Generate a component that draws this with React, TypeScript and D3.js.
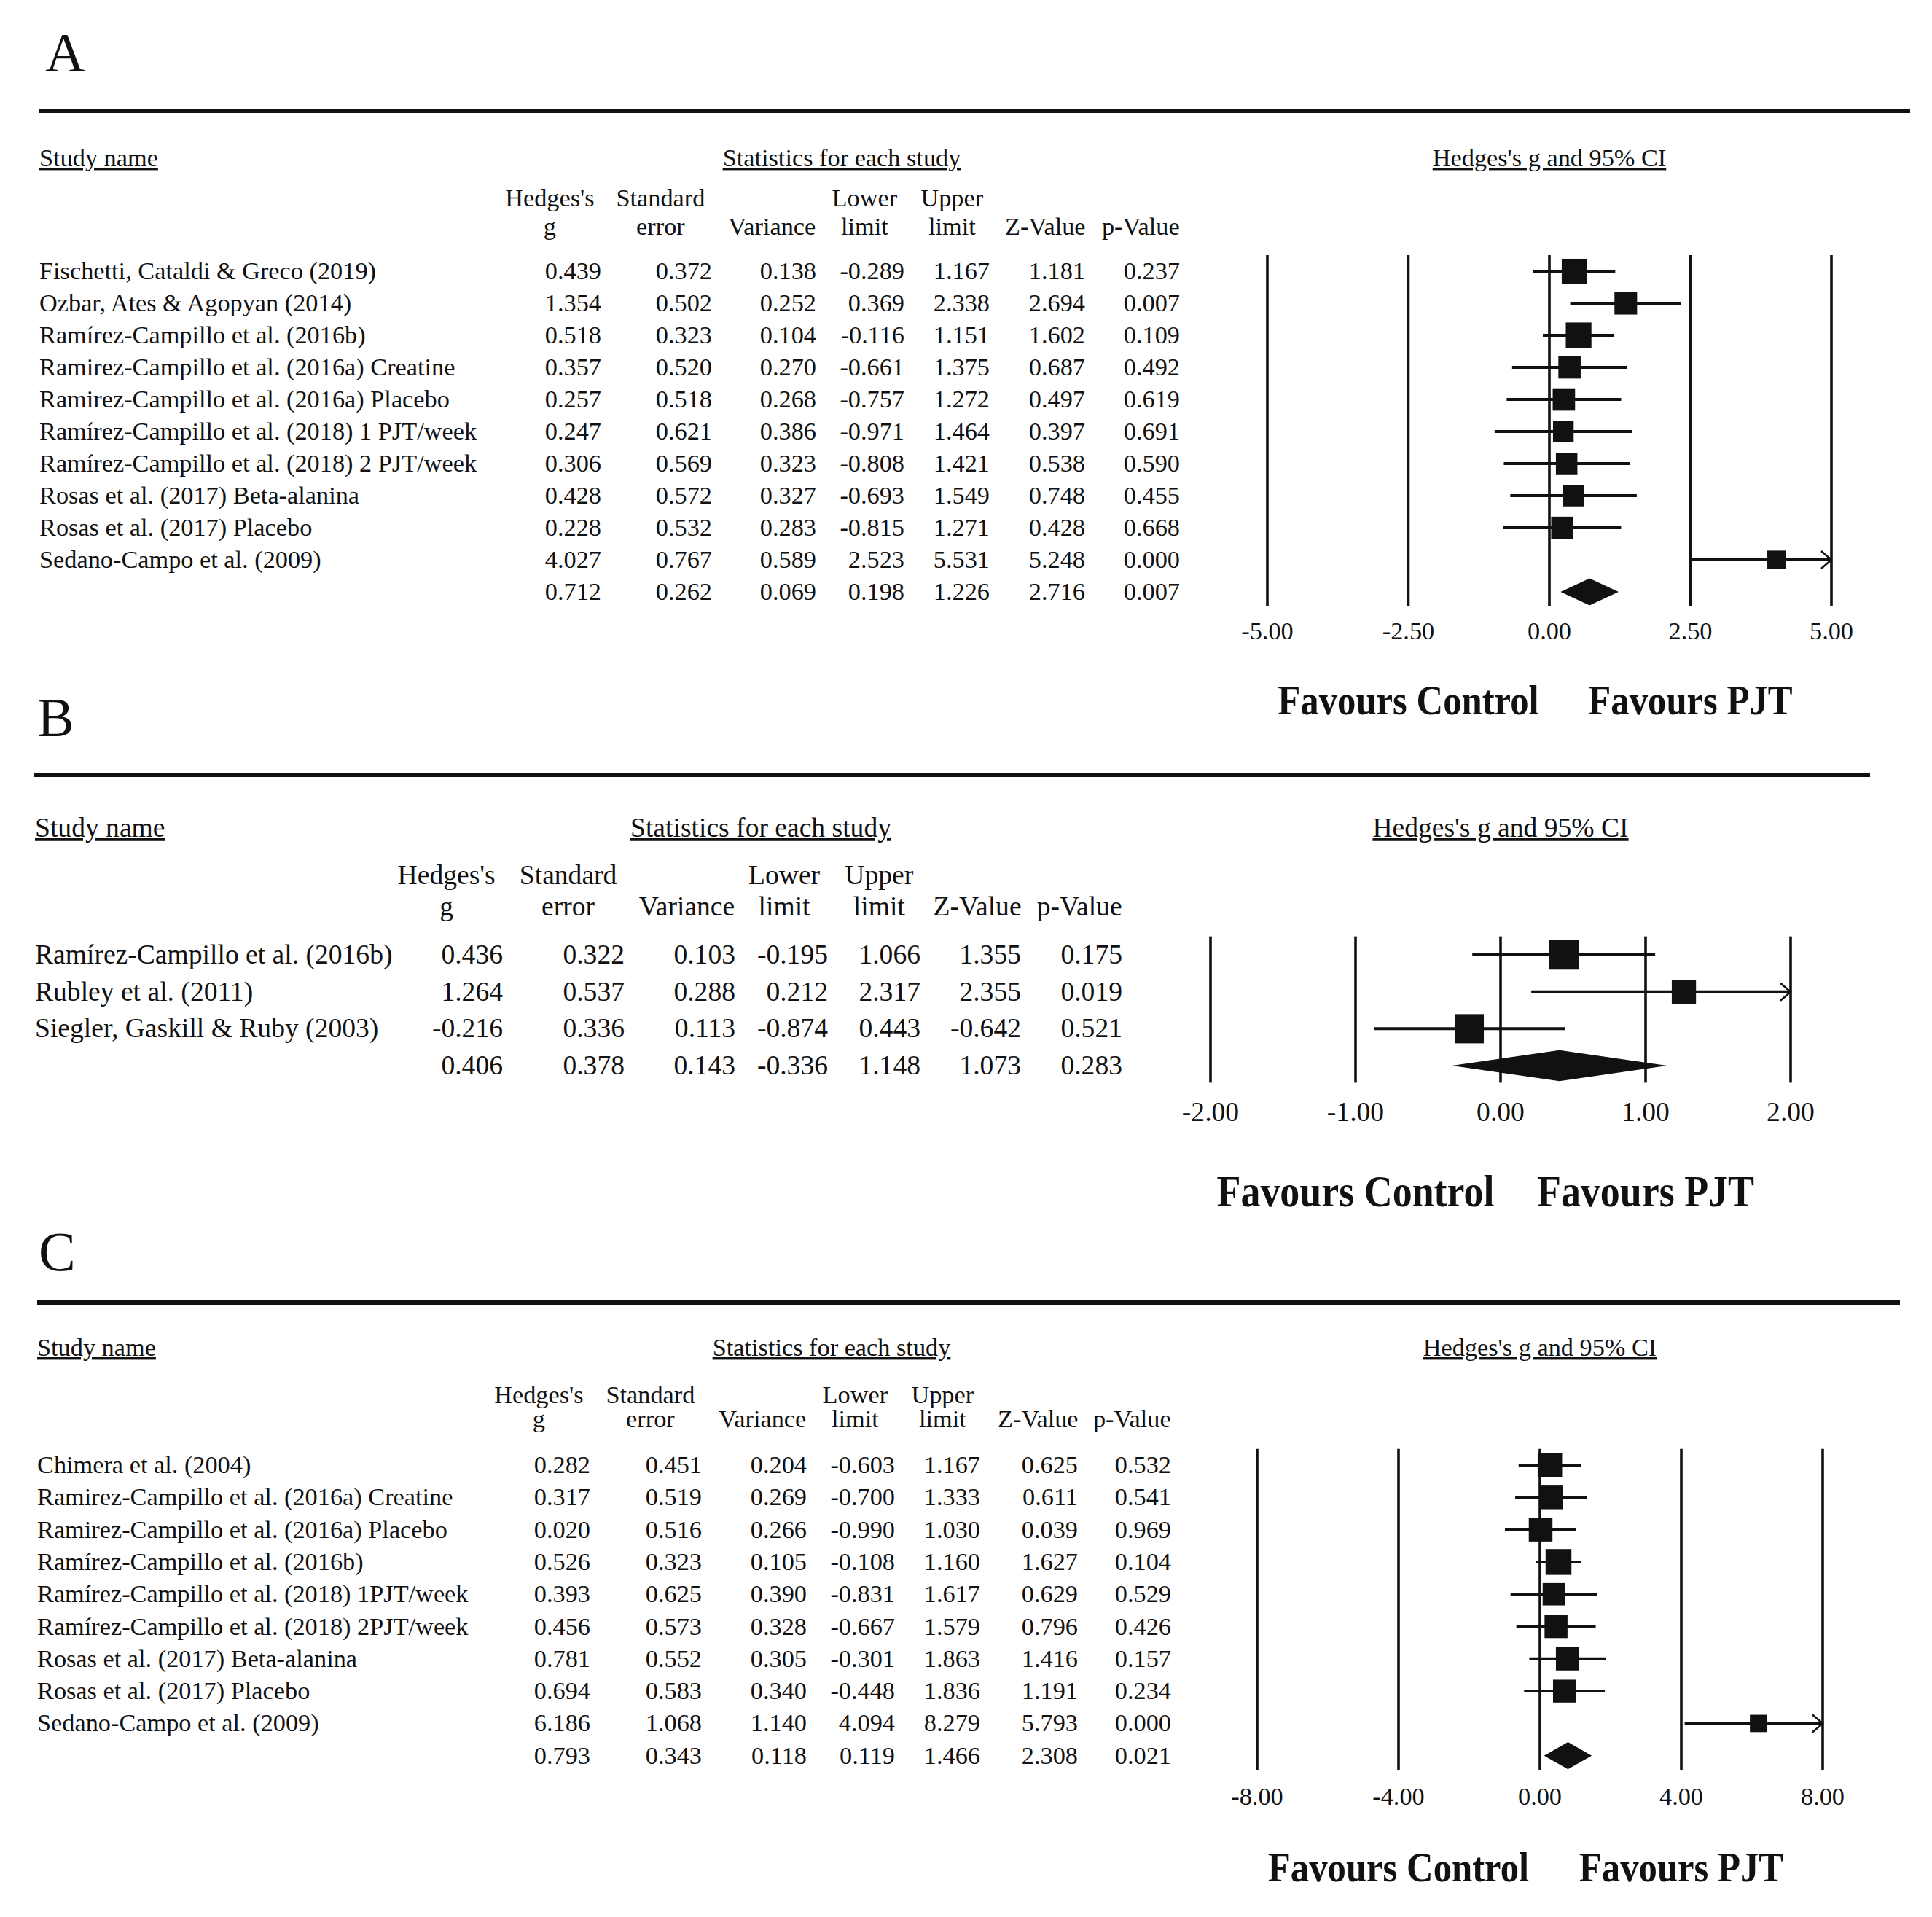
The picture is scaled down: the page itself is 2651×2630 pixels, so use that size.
import React from "react";
import * as d3 from "d3";

// ---------------- Panel A data ----------------
const aStudies = [
  "Fischetti, Cataldi & Greco (2019)",
  "Ozbar, Ates & Agopyan (2014)",
  "Ramírez-Campillo et al. (2016b)",
  "Ramirez-Campillo et al. (2016a) Creatine",
  "Ramirez-Campillo et al. (2016a) Placebo",
  "Ramírez-Campillo et al. (2018) 1 PJT/week",
  "Ramírez-Campillo et al. (2018) 2 PJT/week",
  "Rosas et al. (2017) Beta-alanina",
  "Rosas et al. (2017) Placebo",
  "Sedano-Campo et al. (2009)",
];
const aHedgesG = [0.439, 1.354, 0.518, 0.357, 0.257, 0.247, 0.306, 0.428, 0.228, 4.027];
const aStdErr = [0.372, 0.502, 0.323, 0.52, 0.518, 0.621, 0.569, 0.572, 0.532, 0.767];
const aVariance = [0.138, 0.252, 0.104, 0.27, 0.268, 0.386, 0.323, 0.327, 0.283, 0.589];
const aLower = [-0.289, 0.369, -0.116, -0.661, -0.757, -0.971, -0.808, -0.693, -0.815, 2.523];
const aUpper = [1.167, 2.338, 1.151, 1.375, 1.272, 1.464, 1.421, 1.549, 1.271, 5.531];
const aZValue = [1.181, 2.694, 1.602, 0.687, 0.497, 0.397, 0.538, 0.748, 0.428, 5.248];
const aPValue = [0.237, 0.007, 0.109, 0.492, 0.619, 0.691, 0.59, 0.455, 0.668, 0.0];
const aSummary = [0.712, 0.262, 0.069, 0.198, 1.226, 2.716, 0.007];
const aTicks = [-5, -2.5, 0, 2.5, 5];

// ---------------- Panel B data ----------------
const bStudies = [
  "Ramírez-Campillo et al. (2016b)",
  "Rubley et al. (2011)",
  "Siegler, Gaskill & Ruby (2003)",
];
const bHedgesG = [0.436, 1.264, -0.216];
const bStdErr = [0.322, 0.537, 0.336];
const bVariance = [0.103, 0.288, 0.113];
const bLower = [-0.195, 0.212, -0.874];
const bUpper = [1.066, 2.317, 0.443];
const bZValue = [1.355, 2.355, -0.642];
const bPValue = [0.175, 0.019, 0.521];
const bSummary = [0.406, 0.378, 0.143, -0.336, 1.148, 1.073, 0.283];
const bTicks = [-2, -1, 0, 1, 2];

// ---------------- Panel C data ----------------
const cStudies = [
  "Chimera et al. (2004)",
  "Ramirez-Campillo et al. (2016a) Creatine",
  "Ramirez-Campillo et al. (2016a) Placebo",
  "Ramírez-Campillo et al. (2016b)",
  "Ramírez-Campillo et al. (2018) 1PJT/week",
  "Ramírez-Campillo et al. (2018) 2PJT/week",
  "Rosas et al. (2017) Beta-alanina",
  "Rosas et al. (2017) Placebo",
  "Sedano-Campo et al. (2009)",
];
const cHedgesG = [0.282, 0.317, 0.02, 0.526, 0.393, 0.456, 0.781, 0.694, 6.186];
const cStdErr = [0.451, 0.519, 0.516, 0.323, 0.625, 0.573, 0.552, 0.583, 1.068];
const cVariance = [0.204, 0.269, 0.266, 0.105, 0.39, 0.328, 0.305, 0.34, 1.14];
const cLower = [-0.603, -0.7, -0.99, -0.108, -0.831, -0.667, -0.301, -0.448, 4.094];
const cUpper = [1.167, 1.333, 1.03, 1.16, 1.617, 1.579, 1.863, 1.836, 8.279];
const cZValue = [0.625, 0.611, 0.039, 1.627, 0.629, 0.796, 1.416, 1.191, 5.793];
const cPValue = [0.532, 0.541, 0.969, 0.104, 0.529, 0.426, 0.157, 0.234, 0.0];
const cSummary = [0.793, 0.343, 0.118, 0.119, 1.466, 2.308, 0.021];
const cTicks = [-8, -4, 0, 4, 8];

// ---------------- shared labels ----------------
const headerLine1 = ["Hedges's", "Standard", "", "Lower", "Upper", "", ""];
const headerLine2 = ["g", "error", "Variance", "limit", "limit", "Z-Value", "p-Value"];
const titleStudy = "Study name";
const titleStats = "Statistics for each study";
const titlePlot = "Hedges's g and 95% CI";
const favoursLeft = "Favours Control";
const favoursRight = "Favours PJT";

const FONT = "'Liberation Serif', 'Times New Roman', 'DejaVu Serif', serif";
const INK = "#111";

function dlTau2(g: number[], v: number[]) {
  const w = v.map((d) => 1 / d);
  const sw = d3.sum(w);
  const mean = d3.sum(g.map((d, i) => d * w[i])) / sw;
  const q = d3.sum(g.map((d, i) => w[i] * (d - mean) ** 2));
  const c = sw - d3.sum(w.map((d) => d * d)) / sw;
  return Math.max(0, (q - (g.length - 1)) / c);
}

type PanelCfg = {
  label: string;
  labelX: number;
  labelY: number;
  ruleX1: number;
  ruleX2: number;
  ruleY: number;
  titleY: number;
  hdr1Y: number;
  hdr2Y: number;
  firstBaseline: number;
  rowH: number;
  fontSize: number;
  nameX: number;
  colRight: number[];
  statsCenter: number;
  domain: [number, number];
  range: [number, number];
  ticks: number[];
  tickGap: number;
  favoursY: number;
  favoursSize: number;
  favoursScale: number;
  names: string[];
  g: number[];
  se: number[];
  v: number[];
  lo: number[];
  hi: number[];
  z: number[];
  p: number[];
  summary: number[];
};

const headerOffsets = [-71, -71, -61, -55, -52, -55, -54];

function Panel({ c }: { c: PanelCfg }) {
  const x = d3.scaleLinear().domain(c.domain).range(c.range);
  const k = c.fontSize / 34.5;
  const nStudies = c.names.length;
  const base = (i: number) => c.firstBaseline + i * c.rowH;
  const center = (i: number) => base(i) - 0.32 * c.fontSize;
  const tau2 = dlTau2(c.g, c.v);
  const w = c.v.map((d) => 1 / (d + tau2));
  const wMax = d3.max(w) as number;
  const lineTop = center(0) - c.rowH / 2;
  const lineBottom = center(nStudies) + c.rowH / 2 - 2;
  const tickY = lineBottom + c.tickGap;
  const fmt = (d: number) => d.toFixed(3);
  const [dMin, dMax] = c.domain;

  const tableRows = c.names.map((name, i) => ({
    name,
    vals: [c.g[i], c.se[i], c.v[i], c.lo[i], c.hi[i], c.z[i], c.p[i]],
  }));
  tableRows.push({ name: "", vals: c.summary });

  const arrow = (xe: number, y: number, dir: number) =>
    `M${xe - dir * 14},${y - 12}L${xe},${y}L${xe - dir * 14},${y + 12}`;

  const sg = c.summary[0];
  const sLo = c.summary[3];
  const sHi = c.summary[4];
  const sy = center(nStudies);
  const hh = 0.42 * c.rowH;
  const diamond = d3.line()([
    [x(sLo), sy],
    [x(sg), sy - hh],
    [x(sHi), sy],
    [x(sg), sy + hh],
  ]) + "Z";

  return (
    <g fontFamily={FONT} fill={INK}>
      <text x={c.labelX} y={c.labelY} fontSize={76}>
        {c.label}
      </text>
      <line x1={c.ruleX1} x2={c.ruleX2} y1={c.ruleY} y2={c.ruleY} stroke={INK} strokeWidth={6} />

      <text x={c.nameX} y={c.titleY} fontSize={c.fontSize} textDecoration="underline">
        {titleStudy}
      </text>
      <text x={c.statsCenter} y={c.titleY} fontSize={c.fontSize} textAnchor="middle" textDecoration="underline">
        {titleStats}
      </text>
      <text x={x(0)} y={c.titleY} fontSize={c.fontSize} textAnchor="middle" textDecoration="underline">
        {titlePlot}
      </text>

      {c.colRight.map((r, j) => (
        <g key={"h" + j}>
          {headerLine1[j] ? (
            <text x={r + headerOffsets[j] * k} y={c.hdr1Y} fontSize={c.fontSize} textAnchor="middle">
              {headerLine1[j]}
            </text>
          ) : null}
          <text x={r + headerOffsets[j] * k} y={c.hdr2Y} fontSize={c.fontSize} textAnchor="middle">
            {headerLine2[j]}
          </text>
        </g>
      ))}

      {tableRows.map((row, i) => (
        <g key={"r" + i}>
          {row.name ? (
            <text x={c.nameX} y={base(i)} fontSize={c.fontSize}>
              {row.name}
            </text>
          ) : null}
          {row.vals.map((val, j) => (
            <text key={j} x={c.colRight[j]} y={base(i)} fontSize={c.fontSize} textAnchor="end">
              {fmt(val)}
            </text>
          ))}
        </g>
      ))}

      {c.ticks.map((t) => (
        <g key={"t" + t}>
          <line x1={x(t)} x2={x(t)} y1={lineTop} y2={lineBottom} stroke={INK} strokeWidth={3.6} />
          <text x={x(t)} y={tickY} fontSize={c.fontSize} textAnchor="middle">
            {t.toFixed(2)}
          </text>
        </g>
      ))}

      {c.names.map((_, i) => {
        const y = center(i);
        const lo = Math.max(c.lo[i], dMin);
        const hi = Math.min(c.hi[i], dMax);
        const s = c.rowH * 0.8 * Math.sqrt(w[i] / wMax);
        return (
          <g key={"m" + i}>
            <line x1={x(lo)} x2={x(hi)} y1={y} y2={y} stroke={INK} strokeWidth={4} />
            {c.hi[i] > dMax ? (
              <path d={arrow(x(dMax), y, 1)} fill="none" stroke={INK} strokeWidth={2.6} />
            ) : null}
            {c.lo[i] < dMin ? (
              <path d={arrow(x(dMin), y, -1)} fill="none" stroke={INK} strokeWidth={2.6} />
            ) : null}
            <rect x={x(c.g[i]) - s / 2} y={y - s / 2} width={s} height={s} fill={INK} />
          </g>
        );
      })}

      <path d={diamond} fill={INK} />

      <g fontWeight="bold" fontSize={c.favoursSize}>
        <text
          transform={`translate(${x((dMin + 0) / 2)},${c.favoursY}) scale(${c.favoursScale},1)`}
          textAnchor="middle"
        >
          {favoursLeft}
        </text>
        <text
          transform={`translate(${x((0 + dMax) / 2)},${c.favoursY}) scale(${c.favoursScale},1)`}
          textAnchor="middle"
        >
          {favoursRight}
        </text>
      </g>
    </g>
  );
}

const panels: PanelCfg[] = [
  {
    label: "A",
    labelX: 62,
    labelY: 98,
    ruleX1: 54,
    ruleX2: 2621,
    ruleY: 152,
    titleY: 228,
    hdr1Y: 283,
    hdr2Y: 322,
    firstBaseline: 383,
    rowH: 44,
    fontSize: 34.3,
    nameX: 54,
    colRight: [825, 977, 1120, 1241, 1358, 1489, 1619],
    statsCenter: 1155,
    domain: [-5, 5],
    range: [1739, 2513],
    ticks: aTicks,
    tickGap: 45,
    favoursY: 980,
    favoursSize: 57,
    favoursScale: 0.89,
    names: aStudies,
    g: aHedgesG,
    se: aStdErr,
    v: aVariance,
    lo: aLower,
    hi: aUpper,
    z: aZValue,
    p: aPValue,
    summary: aSummary,
  },
  {
    label: "B",
    labelX: 51,
    labelY: 1010,
    ruleX1: 47,
    ruleX2: 2566,
    ruleY: 1063,
    titleY: 1148,
    hdr1Y: 1213,
    hdr2Y: 1256,
    firstBaseline: 1322,
    rowH: 50.7,
    fontSize: 37.6,
    nameX: 48,
    colRight: [690, 857, 1009, 1136, 1263, 1401, 1540],
    statsCenter: 1044,
    domain: [-2, 2],
    range: [1661, 2457],
    ticks: bTicks,
    tickGap: 53,
    favoursY: 1655,
    favoursSize: 62,
    favoursScale: 0.87,
    names: bStudies,
    g: bHedgesG,
    se: bStdErr,
    v: bVariance,
    lo: bLower,
    hi: bUpper,
    z: bZValue,
    p: bPValue,
    summary: bSummary,
  },
  {
    label: "C",
    labelX: 53,
    labelY: 1743,
    ruleX1: 51,
    ruleX2: 2607,
    ruleY: 1787,
    titleY: 1860,
    hdr1Y: 1925,
    hdr2Y: 1958,
    firstBaseline: 2021,
    rowH: 44.3,
    fontSize: 34.3,
    nameX: 51,
    colRight: [810, 963, 1107, 1228, 1345, 1479, 1607],
    statsCenter: 1141,
    domain: [-8, 8],
    range: [1725, 2501],
    ticks: cTicks,
    tickGap: 47,
    favoursY: 2581,
    favoursSize: 57,
    favoursScale: 0.89,
    names: cStudies,
    g: cHedgesG,
    se: cStdErr,
    v: cVariance,
    lo: cLower,
    hi: cUpper,
    z: cZValue,
    p: cPValue,
    summary: cSummary,
  },
];

export default function App() {
  return (
    <svg
      width={2651}
      height={2630}
      viewBox="0 0 2651 2630"
      style={{ position: "absolute", left: 0, top: 0, background: "#fff" }}
    >
      <rect x={0} y={0} width={2651} height={2630} fill="#fff" />
      {panels.map((c) => (
        <Panel key={c.label} c={c} />
      ))}
    </svg>
  );
}
